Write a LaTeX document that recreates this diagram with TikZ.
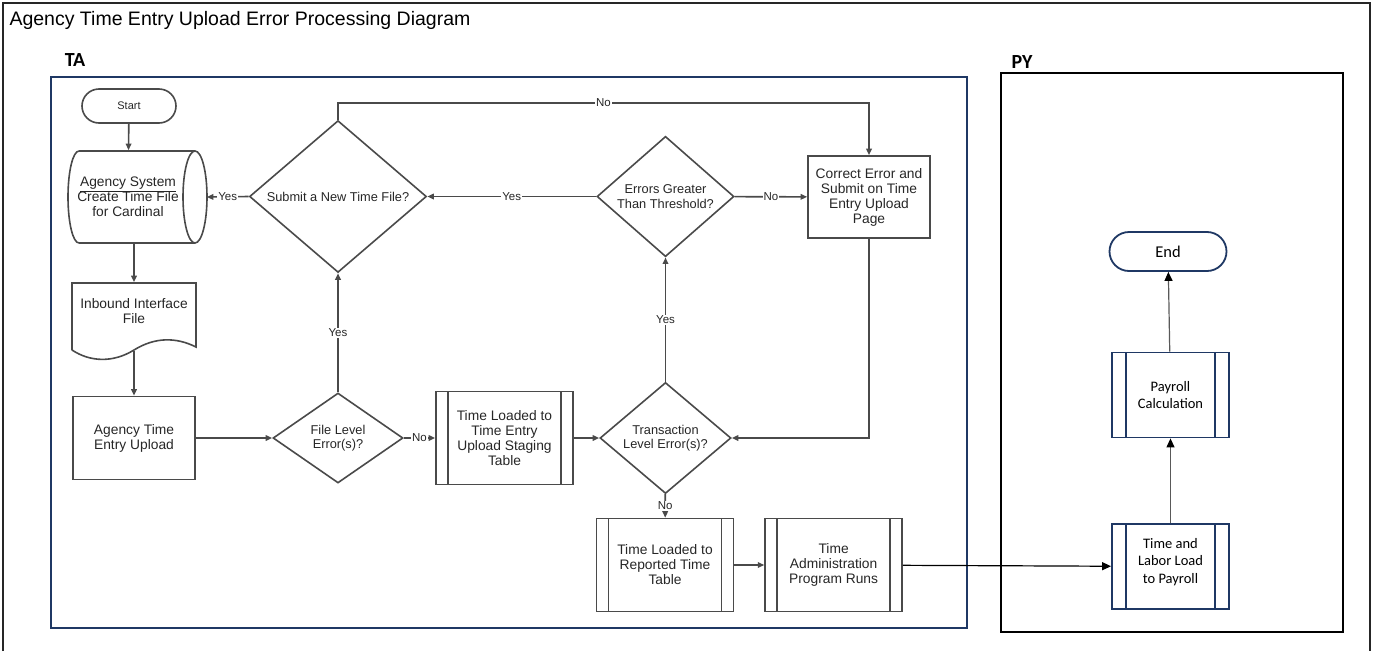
\documentclass[tikz,border=0pt]{standalone}
\usepackage{fontspec}
\setmainfont{Liberation Sans}
\newfontfamily\calibri{Carlito}
\usetikzlibrary{arrows.meta,positioning,shapes.geometric,shapes.misc}

\definecolor{tanavy}{HTML}{1F3864}
\definecolor{flowgray}{HTML}{4A4A4A}

\begin{document}
\begin{tikzpicture}[
    x=1pt, y=-1pt,
    flow/.style={draw=flowgray, line width=1.6pt, text=black!85, align=center, inner sep=2pt,
        font=\fontsize{13.8}{15}\selectfont},
    box/.style={flow, rectangle},
    subproc/.style 2 args={box, draw=#1, path picture={
        \draw[#1, line width=1.6pt]
            ([xshift=#2]path picture bounding box.north west) -- ([xshift=#2]path picture bounding box.south west)
            ([xshift=-#2]path picture bounding box.north east) -- ([xshift=-#2]path picture bounding box.south east);}},
    tasub/.style={subproc={flowgray}{12pt}, minimum width=137pt, minimum height=93pt},
    pysub/.style={subproc={tanavy}{14pt}, text=black, line width=1.8pt, minimum width=117pt, minimum height=85pt,
        font=\calibri\fontsize{14.5}{17.5}\selectfont},
    dec/.style={flow, diamond, inner sep=0pt, font=\fontsize{12.8}{14.5}\selectfont},
    term/.style={flow, rounded rectangle, font=\fontsize{11}{12}\selectfont},
    hidden/.style={flow, draw=none},
    lbl/.style={fill=white, inner sep=1pt, text=black!85, font=\fontsize{11.5}{12}\selectfont},
    arr/.style={draw=flowgray, line width=1.6pt, -{Triangle[length=6.5pt, width=5.5pt]}},
    pyarr/.style={draw=black!65, line width=1.2pt, -{Triangle[length=9pt, width=8pt, color=black]}},
    lane/.style={font=\calibri\bfseries\fontsize{20}{22}\selectfont},
    frame/.style={line width=2.2pt}
]
    \useasboundingbox (0,0) rectangle (1374,651);

    % Outer frame and title
    \draw[black!85, line width=1.6pt] (3,651) -- (3,3) -- (1370,3) -- (1370,651);
    \node[anchor=west, font=\fontsize{19.5}{21}\selectfont] (title) at (6,20) {Agency Time Entry Upload Error Processing Diagram};

    % Lanes
    \node[lane] (talbl) at (75,60) {TA};
    \draw[frame, tanavy] (51,77) rectangle (967,628);
    \node[lane] (pylbl) at (1022,62) {PY};
    \draw[frame, black] (1001,73) rectangle (1343,632);

    % Start
    \node[term, minimum width=98pt, minimum height=34pt] (start) at (129,106) {Start};

    % Agency system (stored data)
    \node[hidden, minimum width=156pt, minimum height=92pt] (agsys) at (128,197)
        {\underline{Agency System}\\Create Time File\\for Cardinal};
    \draw[flowgray, line width=1.6pt] (79,151) -- (195,151) (79,243) -- (195,243)
        (195,197) ellipse[x radius=12pt, y radius=46pt]
        (79,151) arc[start angle=90, end angle=270, x radius=11pt, y radius=46pt];

    % Inbound file (document)
    \node[hidden, minimum width=124pt, minimum height=67pt,
        label={[yshift=5pt, align=center, text=black!85, font=\fontsize{13.8}{15}\selectfont]center:Inbound Interface\\File}]
        (inbound) at (134,316.5) {};
    \draw[flowgray, line width=1.6pt] (72,350) -- (72,283) -- (196,283) -- (196,347)
        .. controls (176,337) and (155,337) .. (134,350)
        .. controls (113,363) and (90,362) .. (72,350);

    % Upload
    \node[box, minimum width=122pt, minimum height=83pt] (upload) at (134,438) {Agency Time\\Entry Upload};

    % File level check
    \node[dec, minimum width=130pt, minimum height=90pt] (filelvl) at (338,438) {File Level\\Error(s)?};

    % Staging table
    \node[tasub] (staging) at (504.5,438) {Time Loaded to\\Time Entry\\Upload Staging\\Table};

    % Transaction level check
    \node[dec, minimum width=131pt, minimum height=96pt] (trans) at (665.5,438) {Transaction\\Level Error(s)?};

    % Threshold check
    \node[dec, minimum width=137pt, minimum height=91pt] (errors) at (665.5,196.5) {Errors Greater\\Than Threshold?};

    % New file?
    \node[dec, minimum width=177pt, minimum height=91pt] (submit) at (338,196.5) {Submit a New Time File?};

    % Correct error
    \node[box, minimum width=122pt, minimum height=82pt] (correct) at (869,197) {Correct Error and\\Submit on Time\\Entry Upload\\Page};

    % Reported time / admin
    \node[tasub] (reported) at (665,565) {Time Loaded to\\Reported Time\\Table};
    \node[tasub, right=30pt of reported] (admin) {Time\\Administration\\Program Runs};

    % PY lane
    \node[term, draw=tanavy, text=black, line width=1.8pt, minimum width=121pt, minimum height=39pt,
        font=\calibri\fontsize{16.5}{18}\selectfont] (end) at (1168,251.5) {End};
    \node[pysub] (payroll) at (1170.5,395) {Payroll\\Calculation};
    \node[pysub] (tl) at (1170.5,566.5) {Time and\\Labor Load\\to Payroll\\[-6pt]};

    % Arrows
    \draw[arr] (start) -- (agsys);
    \draw[arr] (agsys.south -| inbound.north) -- (inbound.north);
    \draw[arr] (inbound.south) -- (upload.north);
    \draw[arr] (upload) -- (filelvl);
    \draw[arr] (filelvl) -- node[lbl] {No} (staging);
    \draw[arr] (staging) -- (trans);
    \draw[arr] (filelvl) -- node[lbl] {Yes} (submit);
    \draw[arr] (submit.west) -- node[lbl] {Yes} (agsys.east);
    \draw[arr] (errors) -- node[lbl] {Yes} (submit);
    \draw[arr] (errors) -- node[lbl] {No} (correct);
    \draw[arr] (submit.north) -- ++(0,-17) -| node[lbl, pos=0.25] {No} (correct.north);
    \draw[arr] (correct.south) |- (trans.east);
    \draw[arr] (trans) -- node[lbl] {Yes} (errors);
    \draw[arr] (trans) -- node[lbl] {No} (reported);
    \draw[arr] (reported) -- (admin);
    \draw[pyarr, draw=black] (admin) -- (tl);
    \draw[pyarr] (tl) -- (payroll);
    \draw[pyarr] (payroll) -- (end);

\end{tikzpicture}
\end{document}
